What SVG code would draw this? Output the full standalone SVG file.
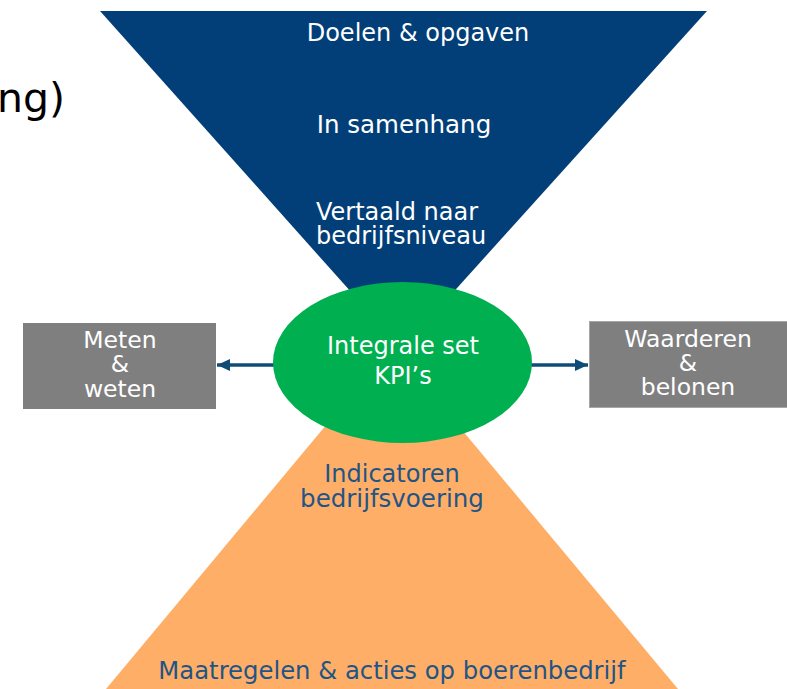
<svg xmlns="http://www.w3.org/2000/svg" width="787" height="689" viewBox="0 0 787 689">
<defs>
<style>
text{font-family:"DejaVu Sans","Verdana",sans-serif;}
.w{fill:#ffffff;text-anchor:middle;}
.d{fill:#1F5586;text-anchor:middle;}
.box{fill:#7F7F7F;}
.conn{stroke:#0F4D77;stroke-width:3.5;fill:none;}
</style>
<marker id="ah" markerWidth="13" markerHeight="12" refX="13" refY="6" orient="auto" markerUnits="userSpaceOnUse">
<path d="M0,0 L13,6 L0,12 Z" fill="#0F4D77"/>
</marker>
</defs>
<rect width="787" height="689" fill="#ffffff"/>
<text x="65" y="112" font-size="41" fill="#000000" text-anchor="end">ng)</text>
<g id="top-triangle">
<polygon points="100,11 707,11 402,349" fill="#023F78"/>
<text class="w" x="418" y="41" font-size="24">Doelen &amp; opgaven</text>
<text class="w" x="404" y="133" font-size="24.5">In samenhang</text>
<text fill="#ffffff" x="316" y="220" font-size="24">Vertaald naar</text>
<text fill="#ffffff" x="316" y="244" font-size="24">bedrijfsniveau</text>
</g>
<g id="bottom-triangle">
<polygon points="392,346 106,689 678,689" fill="#FEAE66"/>
<text class="d" x="392" y="482" font-size="24">Indicatoren</text>
<text class="d" x="392" y="507" font-size="24.5">bedrijfsvoering</text>
<text class="d" x="392" y="679" font-size="24.3">Maatregelen &amp; acties op boerenbedrijf</text>
</g>
<g id="connectors">
<line class="conn" x1="274" y1="365" x2="217" y2="365" marker-end="url(#ah)"/>
<line class="conn" x1="531" y1="365" x2="588" y2="365" marker-end="url(#ah)"/>
</g>
<g id="kpi">
<ellipse cx="402.5" cy="362.5" rx="129.5" ry="80.5" fill="#00B050"/>
<text class="w" x="403" y="354" font-size="24">Integrale set</text>
<text class="w" x="403" y="384" font-size="24">KPI’s</text>
</g>
<g id="meten">
<rect class="box" x="23" y="323" width="193" height="86"/>
<text class="w" x="120" y="348" font-size="23.5">Meten</text>
<text class="w" x="120" y="372" font-size="23.5">&amp;</text>
<text class="w" x="120" y="397" font-size="23.5">weten</text>
</g>
<g id="waarderen">
<rect class="box" x="589.5" y="321.5" width="200" height="86" stroke="#A6A6A6" stroke-width="1"/>
<text class="w" x="688" y="347" font-size="23.5">Waarderen</text>
<text class="w" x="688" y="371" font-size="23.5">&amp;</text>
<text class="w" x="688" y="395" font-size="23.5">belonen</text>
</g>
</svg>
